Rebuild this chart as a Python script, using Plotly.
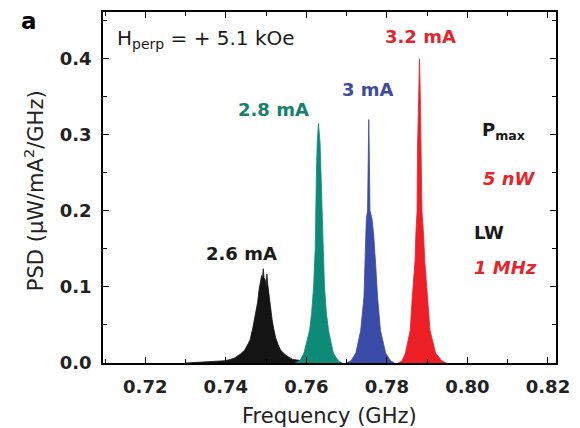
import plotly.graph_objects as go

# ---------------- data ----------------
black_f = [0.7300, 0.7340, 0.7370, 0.7398, 0.7420, 0.7437, 0.7447, 0.7454, 0.7460, 0.7467,
           0.7471, 0.7475, 0.7479, 0.7483, 0.7486, 0.7489, 0.7491, 0.7493, 0.7495, 0.7498,
           0.7500, 0.7502, 0.7504, 0.7506, 0.7510, 0.7515, 0.7519, 0.7524, 0.7530, 0.7536,
           0.7545, 0.7552, 0.7565, 0.7577, 0.7594, 0.7620]
black_v = [0.000, 0.001, 0.002, 0.003, 0.006, 0.012, 0.017, 0.024, 0.030, 0.046,
           0.058, 0.066, 0.080, 0.098, 0.106, 0.115, 0.110, 0.124, 0.112, 0.109,
           0.100, 0.117, 0.104, 0.095, 0.076, 0.057, 0.045, 0.033, 0.024, 0.017,
           0.012, 0.009, 0.005, 0.004, 0.002, 0.000]

teal_f = [0.7572, 0.7584, 0.7594, 0.7608, 0.7613, 0.7618, 0.7622, 0.7623, 0.7625, 0.7627,
          0.7630, 0.7634, 0.7636, 0.7639, 0.7641, 0.7645, 0.7650, 0.7655, 0.7667, 0.7679, 0.7689]
teal_v = [0.000, 0.003, 0.013, 0.043, 0.065, 0.100, 0.150, 0.200, 0.250, 0.290,
          0.315, 0.290, 0.250, 0.200, 0.150, 0.100, 0.065, 0.043, 0.013, 0.003, 0.000]

blue_f = [0.7699, 0.7711, 0.7723, 0.7735, 0.7743, 0.7745, 0.7748, 0.7749, 0.7752, 0.7753,
          0.7754, 0.7755, 0.7756, 0.7757, 0.7758, 0.7763, 0.7767, 0.7772, 0.7777, 0.7784,
          0.7797, 0.7809, 0.7819]
blue_v = [0.000, 0.003, 0.013, 0.043, 0.086, 0.130, 0.170, 0.190, 0.200, 0.250,
          0.290, 0.320, 0.290, 0.250, 0.200, 0.190, 0.170, 0.130, 0.086, 0.043,
          0.013, 0.003, 0.000]

red_f = [0.7828, 0.7838, 0.7846, 0.7858, 0.7863, 0.7870, 0.7872, 0.7875, 0.7876, 0.7879,
         0.7881, 0.7883, 0.7885, 0.7887, 0.7891, 0.7894, 0.7901, 0.7907, 0.7921, 0.7936, 0.7948]
red_v = [0.000, 0.003, 0.013, 0.043, 0.086, 0.135, 0.170, 0.200, 0.280, 0.350,
         0.400, 0.350, 0.280, 0.200, 0.170, 0.135, 0.086, 0.043, 0.013, 0.003, 0.000]

x_ticks = [0.72, 0.74, 0.76, 0.78, 0.80, 0.82]
x_tick_text = ["0.72", "0.74", "0.76", "0.78", "0.80", "0.82"]
y_ticks = [0.0, 0.1, 0.2, 0.3, 0.4]
y_tick_text = ["0.0", "0.1", "0.2", "0.3", "0.4"]

series = [
    (black_f, black_v, "#141414"),
    (teal_f, teal_v, "#0e8a78"),
    (blue_f, blue_v, "#3a4ca8"),
    (red_f, red_v, "#ec1f27"),
]

fig = go.Figure()
for f, v, c in series:
    fig.add_trace(go.Scatter(x=f, y=v, mode="lines", fill="tozeroy",
                             line=dict(color=c, width=0.8), fillcolor=c,
                             showlegend=False, hoverinfo="skip"))

FONT = "DejaVu Sans"
axis_common = dict(showline=True, linecolor="black", linewidth=1.5, mirror="allticks",
                   ticks="inside", ticklen=6, tickwidth=1.2, tickcolor="black",
                   showgrid=False, zeroline=False,
                   tickfont=dict(family=FONT, size=18, color="#222222", weight="bold"))

fig.update_xaxes(range=[0.7095, 0.822], tickvals=x_ticks, ticktext=x_tick_text,
                 minor=dict(ticks="inside", ticklen=4, dtick=0.01, tick0=0.72, tickcolor="black", tickwidth=1),
                 ticklabelstandoff=7, **axis_common)
fig.update_yaxes(range=[0, 0.4614], tickvals=y_ticks, ticktext=y_tick_text,
                 minor=dict(ticks="inside", ticklen=4, dtick=0.05, tick0=0, tickcolor="black", tickwidth=1),
                 ticklabelstandoff=6, **axis_common)

ann = []
def txt(x, y, t, color="#1a1a1a", size=18, bold=True, italic=False, xanchor="center"):
    ann.append(dict(x=x, y=y, xref="x", yref="y",
                    text=t, showarrow=False, xanchor=xanchor, yanchor="middle",
                    font=dict(family=FONT, size=size, color=color,
                              weight="bold" if bold else "normal",
                              style="italic" if italic else "normal")))

txt(0.7125, 0.426, "H<sub>perp</sub> = + 5.1 kOe", size=20, bold=False, xanchor="left")
txt(0.7884, 0.429, "3.2 mA", color="#e3262e")
txt(0.7753, 0.360, "3 mA", color="#3f4c9e")
txt(0.7518, 0.333, "2.8 mA", color="#17806f")
txt(0.7440, 0.144, "2.6 mA")
txt(0.8090, 0.305, "P<sub>max</sub>")
txt(0.8105, 0.243, "5 nW", color="#e3262e", italic=True)
txt(0.8053, 0.171, "LW")
txt(0.8095, 0.125, "1 MHz", color="#e3262e", italic=True)

fig.update_layout(annotations=ann)
fig.add_annotation(x=-0.163, y=0.975, xref="paper", yref="paper", text="a", showarrow=False,
                   xanchor="center", yanchor="middle",
                   font=dict(family=FONT, size=23, color="black", weight="bold"))
fig.add_annotation(x=-0.152, y=0.49, xref="paper", yref="paper", text="PSD (μW/mA<sup>2</sup>/GHz)",
                   showarrow=False, textangle=-90, xanchor="center", yanchor="middle",
                   font=dict(family=FONT, size=21, color="#222222"))
fig.add_annotation(x=0.5, y=-0.11, xref="paper", yref="paper", text="Frequency (GHz)",
                   showarrow=False, xanchor="center", yanchor="top",
                   font=dict(family=FONT, size=21, color="#222222"))

fig.update_layout(width=580, height=428, margin=dict(l=103, r=17, t=10, b=65),
                  plot_bgcolor="white", paper_bgcolor="white", hovermode=False)

fig.write_html("out.html", config={"displayModeBar": False},
               post_script="document.body.style.margin='0';document.body.style.overflow='hidden';")
